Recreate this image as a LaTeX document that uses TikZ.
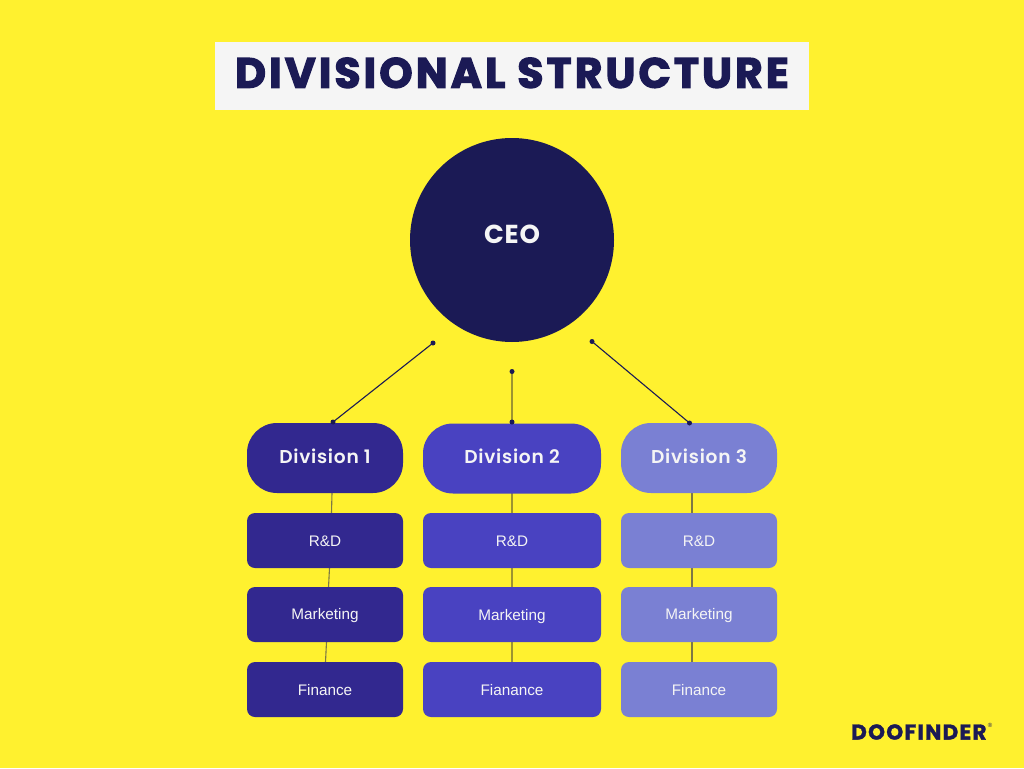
\documentclass[tikz,border=0pt]{standalone}
\usepackage{fontspec}
\setmainfont{Liberation Sans}
\newfontfamily\titlefont[LetterSpace=7.5,FakeBold=3]{Poppins Bold}
\newfontfamily\ceofont[LetterSpace=3]{Poppins Bold}
\newfontfamily\divfont[LetterSpace=4]{Poppins SemiBold}
\newfontfamily\logofont[FakeBold=1.5,LetterSpace=6]{Poppins Bold}
\definecolor{bg}{HTML}{FFF12F}
\definecolor{navy}{HTML}{1B1A55}
\definecolor{ca}{HTML}{32288F}
\definecolor{cb}{HTML}{4942C1}
\definecolor{cc}{HTML}{7A80D3}
\definecolor{paper}{HTML}{F5F5F5}
\definecolor{olive}{HTML}{9D9430}
\definecolor{linkgrey}{HTML}{7D7845}
\tikzset{
  divbox/.style={rounded corners=30pt,inner sep=0pt,minimum height=70pt,text=paper,
    font=\divfont\fontsize{18.6}{20}\selectfont,text height=13pt,text depth=2pt},
  subbox/.style={rounded corners=8pt,inner sep=0pt,minimum height=55pt,text=paper,
    font=\fontsize{15.3}{18}\selectfont,text height=11pt,text depth=0pt},
  link/.style={line width=1.1pt,navy},
  sublink/.style={line width=1.1pt,linkgrey},
  sublinkb/.style={line width=1.7pt,olive},
  dotc/.style={circle,fill=navy,inner sep=0pt,minimum size=5pt},
}
\begin{document}
\begin{tikzpicture}[x=1pt,y=-1pt]
\useasboundingbox (0,0) rectangle (1024,768);
\fill[bg] (0,0) rectangle (1024,768);
\node[fill=paper,minimum width=594pt,minimum height=68pt,inner sep=0pt,text=navy,
  font=\titlefont\fontsize{42.3}{46}\selectfont,text height=29.5pt,text depth=6pt] (title) at (512,76) {DIVISIONAL STRUCTURE};
\node[circle,fill=navy,minimum size=204pt,inner sep=0pt] (ceo) at (512,240) {};
\node[text=paper,font=\ceofont\fontsize{26}{28}\selectfont,inner sep=0pt] (ceotext) at (512,234.5) {CEO};

% connector ends
\coordinate (c1) at (433,343); \coordinate (d1t) at (333,422);
\coordinate (c2) at (512,371.5); \coordinate (d2t) at (512,422);
\coordinate (c3) at (592,341.5); \coordinate (d3t) at (689.5,423);
\coordinate (a0) at (332,493); \coordinate (a1) at (331.5,513);
\coordinate (a2) at (329.5,568); \coordinate (a3) at (328.5,587.5);
\coordinate (a4) at (326.5,642); \coordinate (a5) at (325.5,662);
\coordinate (b0) at (512,493); \coordinate (b1) at (512,513);
\coordinate (b2) at (512,568); \coordinate (b3) at (512,587.5);
\coordinate (b4) at (512,642); \coordinate (b5) at (512,662);
\coordinate (e0) at (692,493); \coordinate (e1) at (692,513);
\coordinate (e2) at (692,568); \coordinate (e3) at (692,587.5);
\coordinate (e4) at (692,642); \coordinate (e5) at (692,662);

\draw[link] (c1) -- (d1t);
\draw[sublinkb] (c2) -- (d2t);
\draw[link] (c3) -- (d3t);
\draw[sublink] (a0) -- (a1) (a2) -- (a3) (a4) -- (a5);
\draw[sublinkb] (b0) -- (b1) (b2) -- (b3) (b4) -- (b5);
\draw[sublink] (e0) -- (e1) (e2) -- (e3) (e4) -- (e5);

\node[divbox,fill=ca,minimum width=156pt] (d1) at (325,458) {Division 1};
\node[divbox,fill=cb,minimum width=178pt,text depth=3pt] (d2) at (512,458.5) {Division 2};
\node[divbox,fill=cc,minimum width=156pt] (d3) at (699,458) {Division 3};
\foreach \p in {c1,d1t,c2,d2t,c3,d3t} \node[dotc] at (\p) {};

\node[subbox,fill=ca,minimum width=156pt] (r1) at (325,540.5) {R\&D};
\node[subbox,fill=ca,minimum width=156pt,text depth=1.5pt] (m1) at (325,614.5) {Marketing};
\node[subbox,fill=ca,minimum width=156pt] (f1) at (325,689.5) {Finance};
\node[subbox,fill=cb,minimum width=178pt] (r2) at (512,540.5) {R\&D};
\node[subbox,fill=cb,minimum width=178pt] (m2) at (512,614.5) {Marketing};
\node[subbox,fill=cb,minimum width=178pt] (f2) at (512,689.5) {Fianance};
\node[subbox,fill=cc,minimum width=156pt] (r3) at (699,540.5) {R\&D};
\node[subbox,fill=cc,minimum width=156pt,text depth=1.5pt] (m3) at (699,614.5) {Marketing};
\node[subbox,fill=cc,minimum width=156pt] (f3) at (699,689.5) {Finance};

\node[anchor=west,inner sep=0pt,text=navy,font=\logofont\fontsize{21.5}{24}\selectfont] (logo) at (851,732) {DOOFINDER};
\node[anchor=center,inner sep=0pt,text=navy,font=\fontsize{6}{7}\selectfont] (reg) at (990,725.5) {®};
\end{tikzpicture}
\end{document}
